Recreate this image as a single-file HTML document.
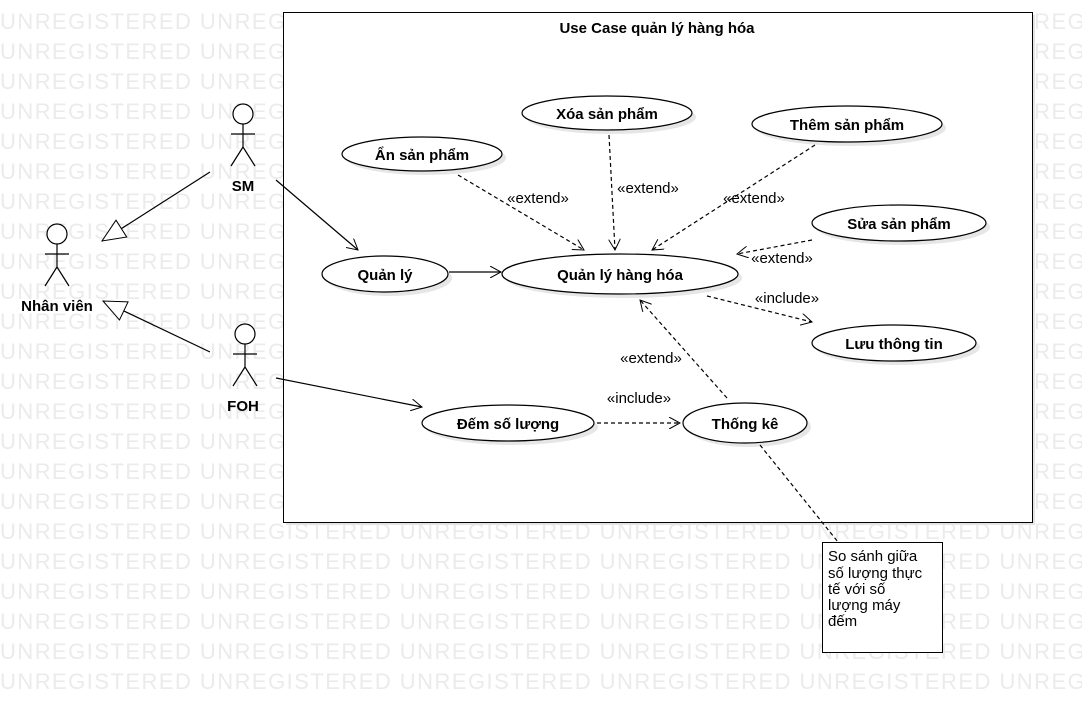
<!DOCTYPE html>
<html><head><meta charset="utf-8"><style>body{margin:0;background:#fff}svg{display:block}</style></head><body>
<svg width="1082" height="702" xmlns="http://www.w3.org/2000/svg" font-family="Liberation Sans, sans-serif">
<defs>
<marker id="op" markerWidth="12" markerHeight="12" refX="11" refY="6" orient="auto" markerUnits="userSpaceOnUse"><path d="M0,0 L11,6 L0,12" fill="none" stroke="#000"/></marker>
<marker id="tri" markerWidth="26" markerHeight="22" refX="24" refY="11" orient="auto" markerUnits="userSpaceOnUse"><path d="M1,1 L24,11 L1,21 Z" fill="#fff" stroke="#000"/></marker>
</defs>
<g fill="#ebebeb" font-size="22" letter-spacing="1.46">
<text x="0" y="29">UNREGISTERED UNREGISTERED UNREGISTERED UNREGISTERED UNREGISTERED UNREGISTERED</text>
<text x="0" y="59">UNREGISTERED UNREGISTERED UNREGISTERED UNREGISTERED UNREGISTERED UNREGISTERED</text>
<text x="0" y="89">UNREGISTERED UNREGISTERED UNREGISTERED UNREGISTERED UNREGISTERED UNREGISTERED</text>
<text x="0" y="119">UNREGISTERED UNREGISTERED UNREGISTERED UNREGISTERED UNREGISTERED UNREGISTERED</text>
<text x="0" y="149">UNREGISTERED UNREGISTERED UNREGISTERED UNREGISTERED UNREGISTERED UNREGISTERED</text>
<text x="0" y="179">UNREGISTERED UNREGISTERED UNREGISTERED UNREGISTERED UNREGISTERED UNREGISTERED</text>
<text x="0" y="209">UNREGISTERED UNREGISTERED UNREGISTERED UNREGISTERED UNREGISTERED UNREGISTERED</text>
<text x="0" y="239">UNREGISTERED UNREGISTERED UNREGISTERED UNREGISTERED UNREGISTERED UNREGISTERED</text>
<text x="0" y="269">UNREGISTERED UNREGISTERED UNREGISTERED UNREGISTERED UNREGISTERED UNREGISTERED</text>
<text x="0" y="299">UNREGISTERED UNREGISTERED UNREGISTERED UNREGISTERED UNREGISTERED UNREGISTERED</text>
<text x="0" y="329">UNREGISTERED UNREGISTERED UNREGISTERED UNREGISTERED UNREGISTERED UNREGISTERED</text>
<text x="0" y="359">UNREGISTERED UNREGISTERED UNREGISTERED UNREGISTERED UNREGISTERED UNREGISTERED</text>
<text x="0" y="389">UNREGISTERED UNREGISTERED UNREGISTERED UNREGISTERED UNREGISTERED UNREGISTERED</text>
<text x="0" y="419">UNREGISTERED UNREGISTERED UNREGISTERED UNREGISTERED UNREGISTERED UNREGISTERED</text>
<text x="0" y="449">UNREGISTERED UNREGISTERED UNREGISTERED UNREGISTERED UNREGISTERED UNREGISTERED</text>
<text x="0" y="479">UNREGISTERED UNREGISTERED UNREGISTERED UNREGISTERED UNREGISTERED UNREGISTERED</text>
<text x="0" y="509">UNREGISTERED UNREGISTERED UNREGISTERED UNREGISTERED UNREGISTERED UNREGISTERED</text>
<text x="0" y="539">UNREGISTERED UNREGISTERED UNREGISTERED UNREGISTERED UNREGISTERED UNREGISTERED</text>
<text x="0" y="569">UNREGISTERED UNREGISTERED UNREGISTERED UNREGISTERED UNREGISTERED UNREGISTERED</text>
<text x="0" y="599">UNREGISTERED UNREGISTERED UNREGISTERED UNREGISTERED UNREGISTERED UNREGISTERED</text>
<text x="0" y="629">UNREGISTERED UNREGISTERED UNREGISTERED UNREGISTERED UNREGISTERED UNREGISTERED</text>
<text x="0" y="659">UNREGISTERED UNREGISTERED UNREGISTERED UNREGISTERED UNREGISTERED UNREGISTERED</text>
<text x="0" y="689">UNREGISTERED UNREGISTERED UNREGISTERED UNREGISTERED UNREGISTERED UNREGISTERED</text>
</g>
<rect x="286" y="15" width="749" height="510" fill="#e4e4e4"/>
<rect x="283.5" y="12.5" width="749" height="510" fill="#fff" stroke="#000"/>
<text x="657" y="33" font-size="15" font-weight="bold" text-anchor="middle">Use Case quản lý hàng hóa</text>
<g fill="#e6e6e6">
<ellipse cx="611" cy="117" rx="85" ry="17"/><ellipse cx="426" cy="158" rx="80" ry="17"/><ellipse cx="851" cy="128" rx="95" ry="18"/><ellipse cx="903" cy="227" rx="87" ry="18"/><ellipse cx="389" cy="278" rx="63" ry="18"/><ellipse cx="624" cy="278" rx="118" ry="20"/><ellipse cx="898" cy="347" rx="82" ry="18"/><ellipse cx="512" cy="427" rx="86" ry="18"/><ellipse cx="749" cy="427" rx="62" ry="20"/>
</g>
<g fill="#fff" stroke="#000" stroke-width="1.2">
<ellipse cx="607" cy="113" rx="85" ry="17"/><ellipse cx="422" cy="154" rx="80" ry="17"/><ellipse cx="847" cy="124" rx="95" ry="18"/><ellipse cx="899" cy="223" rx="87" ry="18"/><ellipse cx="385" cy="274" rx="63" ry="18"/><ellipse cx="620" cy="274" rx="118" ry="20"/><ellipse cx="894" cy="343" rx="82" ry="18"/><ellipse cx="508" cy="423" rx="86" ry="18"/><ellipse cx="745" cy="423" rx="62" ry="20"/>
</g>
<g font-size="15" font-weight="bold" text-anchor="middle">
<text x="607" y="119">Xóa sản phẩm</text><text x="422" y="160">Ẩn sản phẩm</text><text x="847" y="130">Thêm sản phẩm</text><text x="899" y="229">Sửa sản phẩm</text><text x="385" y="280">Quản lý</text><text x="620" y="280">Quản lý hàng hóa</text><text x="894" y="349">Lưu thông tin</text><text x="508" y="429">Đếm số lượng</text><text x="745" y="429">Thống kê</text>
<text x="243" y="191">SM</text><text x="57" y="311">Nhân viên</text><text x="243" y="411">FOH</text>
</g>
<g fill="#fff" stroke="#000" stroke-width="1.2">
<circle cx="243" cy="114" r="10"/><path d="M243,124 V147 M231,134 H255 M243,147 L231,166 M243,147 L255,166" fill="none"/>
<circle cx="57" cy="234" r="10"/><path d="M57,244 V267 M45,254 H69 M57,267 L45,286 M57,267 L69,286" fill="none"/>
<circle cx="245" cy="334" r="10"/><path d="M245,344 V367 M233,354 H257 M245,367 L233,386 M245,367 L257,386" fill="none"/>
</g>
<g stroke="#000" stroke-width="1.2" fill="none">
<line x1="210" y1="172" x2="102" y2="241" marker-end="url(#tri)"/>
<line x1="210" y1="352" x2="103" y2="301" marker-end="url(#tri)"/>
<line x1="276" y1="180" x2="358" y2="250" marker-end="url(#op)"/>
<line x1="449" y1="272" x2="501" y2="272" marker-end="url(#op)"/>
<line x1="276" y1="378" x2="422" y2="407" marker-end="url(#op)"/>
</g>
<g stroke="#000" stroke-width="1.2" fill="none" stroke-dasharray="4,3">
<line x1="458" y1="175" x2="584" y2="250" marker-end="url(#op)"/>
<line x1="609" y1="135" x2="615" y2="250" marker-end="url(#op)"/>
<line x1="815" y1="145" x2="652" y2="250" marker-end="url(#op)"/>
<line x1="812" y1="240" x2="737" y2="254" marker-end="url(#op)"/>
<line x1="707" y1="296" x2="812" y2="322" marker-end="url(#op)"/>
<line x1="727" y1="398" x2="640" y2="300" marker-end="url(#op)"/>
<line x1="597" y1="423" x2="680" y2="423" marker-end="url(#op)"/>
<line x1="760" y1="445" x2="838" y2="542"/>
</g>
<g font-size="15" text-anchor="middle" fill="#000">
<text x="538" y="203">«extend»</text><text x="648" y="193">«extend»</text><text x="754" y="203">«extend»</text><text x="782" y="263">«extend»</text><text x="787" y="303">«include»</text><text x="651" y="363">«extend»</text><text x="639" y="403">«include»</text>
</g>
<rect x="822.5" y="542.5" width="120" height="110" fill="#fff" stroke="#000"/>
<g font-size="15" fill="#000"><text x="828" y="561">So sánh giữa</text><text x="828" y="578">số lượng thực</text><text x="828" y="594">tế với số</text><text x="828" y="610">lượng máy</text><text x="828" y="626">đếm</text></g>
</svg>
</body></html>
